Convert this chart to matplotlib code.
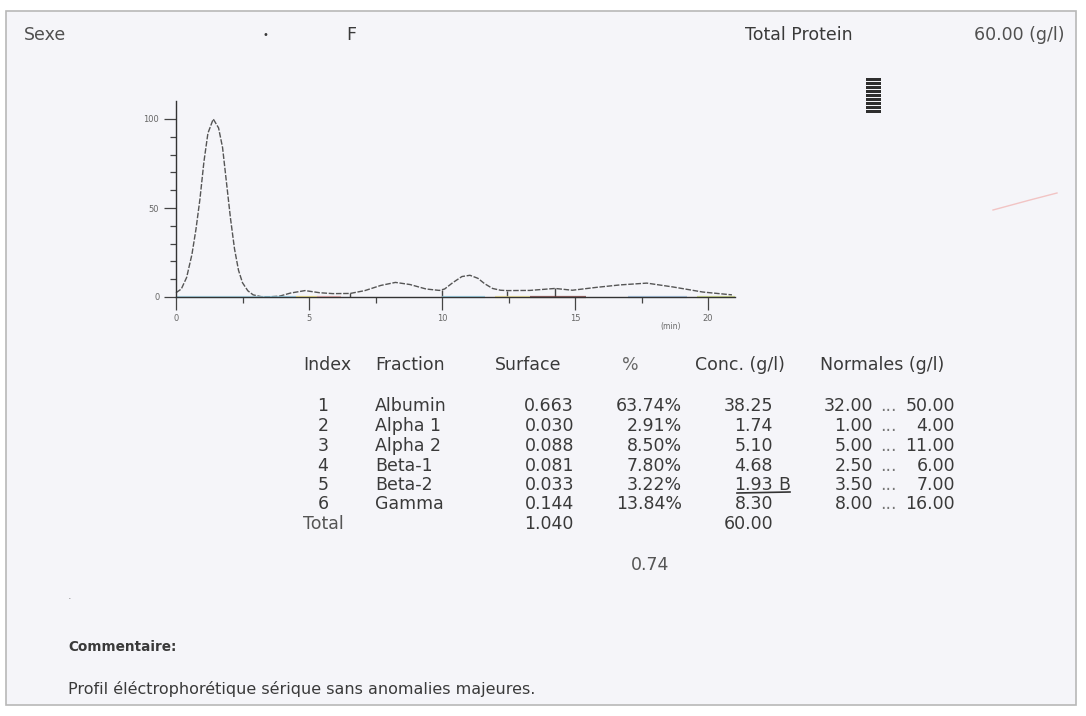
import numpy as np
import matplotlib
matplotlib.use("Agg")
import matplotlib.pyplot as plt
from matplotlib.patches import Rectangle

W, H = 1086, 716

# densitometry trace (time in min, relative absorbance)
time_min = [0.0, 0.2, 0.4, 0.6, 0.75, 0.9, 1.05, 1.2, 1.4, 1.6, 1.75, 1.9, 2.05,
            2.2, 2.35, 2.5, 2.7, 2.9, 3.2, 3.5, 3.9, 4.3, 4.85, 5.4, 5.9, 6.55,
            7.1, 7.7, 8.25, 8.8, 9.4, 9.9, 10.1, 10.4, 10.75, 11.05, 11.35, 11.6,
            11.9, 12.2, 12.45, 13.3, 14.25, 14.9, 15.8, 16.7, 17.7, 18.7, 19.8, 20.9]
signal = [2.4, 4.5, 11, 24, 38, 55, 76, 92, 100, 95, 84, 64, 44,
          27, 15, 8, 3.5, 1.2, 0.2, 0.1, 0.5, 2.2, 3.6, 2.4, 1.9, 2.0,
          3.6, 6.5, 8.2, 7.0, 4.5, 3.7, 4.5, 8, 11.5, 12.2, 10.5, 7.5,
          4.8, 3.8, 3.6, 3.7, 4.8, 3.8, 5.4, 6.8, 7.8, 5.6, 2.8, 1.2]
fraction_bounds = [6.55, 10.0, 12.45, 14.25]

# results table
index_no = ["1", "2", "3", "4", "5", "6"]
fractions = ["Albumin", "Alpha 1", "Alpha 2", "Beta-1", "Beta-2", "Gamma"]
surface = ["0.663", "0.030", "0.088", "0.081", "0.033", "0.144"]
percent = ["63.74%", "2.91%", "8.50%", "7.80%", "3.22%", "13.84%"]
conc = ["38.25", "1.74", "5.10", "4.68", "1.93 B", "8.30"]
norm_low = ["32.00", "1.00", "5.00", "2.50", "3.50", "8.00"]
norm_high = ["50.00", "4.00", "11.00", "6.00", "7.00", "16.00"]
surface_total = "1.040"
conc_total = "60.00"
ratio = "0.74"

plt.rcParams["font.family"] = ["DejaVu Sans"]
ink = "#3a3a3a"
FS = 12.5

fig = plt.figure(figsize=(W / 100, H / 100), dpi=100, facecolor="white")

def px(x, y):
    return x / W, 1 - y / H

def put(x, y, s, size=FS, ha="left", **kw):
    kw.setdefault("color", ink)
    fig.text(*px(x, y), s, fontsize=size, ha=ha, va="center", **kw)

# paper sheet
fig.patches.append(Rectangle(px(6, 705), (1076 - 6) / W, (705 - 11) / H,
                             transform=fig.transFigure, facecolor="#f5f5f9",
                             edgecolor="#b8b8b8", lw=1.2, zorder=-5))

# header
put(24, 35, "Sexe", color="#505050")
put(262, 35, "•", size=7)
put(346, 35, "F")
put(745, 35, "Total Protein")
put(1064, 35, "60.00 (g/l)", ha="right", color="#505050")

# small black mark top right
for k in range(9):
    fig.patches.append(Rectangle(px(866, 78 + 4 * k + 2.5), 15 / W, 2.6 / H,
                                 transform=fig.transFigure, facecolor="#2e2e2e",
                                 edgecolor="none", zorder=1))
fig.lines.append(plt.Line2D([993 / W, 1030 / W, 1057 / W],
                            [1 - 210 / H, 1 - 200 / H, 1 - 193 / H],
                            transform=fig.transFigure, color="#f2c4c4", lw=1))

# electrophoresis trace
ax = fig.add_axes([176 / W, 1 - 297 / H, 21 * 26.6 / W, 110 * 1.78 / H])
ax.set_facecolor("none")
ax.set_xlim(0, 21)
ax.set_ylim(0, 110)
for s in ("top", "right"):
    ax.spines[s].set_visible(False)
for s in ("left", "bottom"):
    ax.spines[s].set_color("#333333")
    ax.spines[s].set_linewidth(1.0)

ax.plot(time_min, signal, color="#555555", lw=1.0, ls=(0, (4, 1.2)), clip_on=False)
seg_h = np.interp(fraction_bounds, time_min, signal)
ax.vlines(fraction_bounds, 0, seg_h, color="#444444", lw=1.0)

# coloured fraction strip on the baseline
strip = [(0.0, 3.3, "#9fd3e6"), (3.3, 4.5, "#8fd0e8"), (4.5, 5.3, "#f3e27a"),
         (5.3, 6.2, "#e9a2a2"), (10.0, 11.6, "#8fd0e8"), (12.0, 13.3, "#f0e08a"),
         (13.3, 15.4, "#7a3b3b"), (17.0, 19.2, "#9bbfe0"), (19.6, 21.0, "#c8d97a")]
for a, b, c in strip:
    ax.plot([a, b], [0, 0], color=c, lw=1.6, alpha=0.8, clip_on=False,
            solid_capstyle="butt")

ax.set_xticks([0, 5, 10, 15, 20])
ax.set_xticks([2.5, 7.5, 12.5, 17.5], minor=True)
ax.set_yticks([0, 50, 100])
ax.set_yticks(np.arange(10, 110, 10), minor=True)
ax.tick_params(which="major", length=9, width=0.9, color="#444444", pad=3,
               labelsize=6, labelcolor="#666666")
ax.tick_params(which="minor", length=4, width=0.9, color="#444444")
ax.text(18.6, -18, "(min)", fontsize=5.5, color="#666666", ha="center", clip_on=False)

# table
put(303, 365, "Index")
put(375, 365, "Fraction")
put(495, 365, "Surface")
put(630, 365, "%", ha="center", color="#666666")
put(695, 365, "Conc. (g/l)")
put(820, 365, "Normales (g/l)")

row_y = [406, 426, 446, 466, 485, 504]
for i, y in enumerate(row_y):
    put(323, y, index_no[i], ha="center")
    put(375, y, fractions[i])
    put(574, y, surface[i], ha="right")
    put(682, y, percent[i], ha="right")
    put(773, y, conc[i].split()[0], ha="right")
    if len(conc[i].split()) > 1:
        put(778, y, conc[i].split()[1])
    put(873, y, norm_low[i], ha="right")
    put(888, y, "...", ha="center", color="#777777")
    put(955, y, norm_high[i], ha="right")

fig.lines.append(plt.Line2D([737 / W, 790 / W], [1 - 493 / H, 1 - 492 / H],
                            transform=fig.transFigure, color="#333333", lw=1.2))

put(303, 524, "Total", color="#555555")
put(574, 524, surface_total, ha="right")
put(773, 524, conc_total, ha="right")
put(650, 565, ratio, ha="center", color="#555555")

put(68, 596, ".", size=8, color="#888888")
put(68, 647, "Commentaire:", fontweight="bold", size=9.8)
put(68, 689, "Profil éléctrophorétique sérique sans anomalies majeures.", size=11.5)

fig.savefig("out.png", dpi=100)
